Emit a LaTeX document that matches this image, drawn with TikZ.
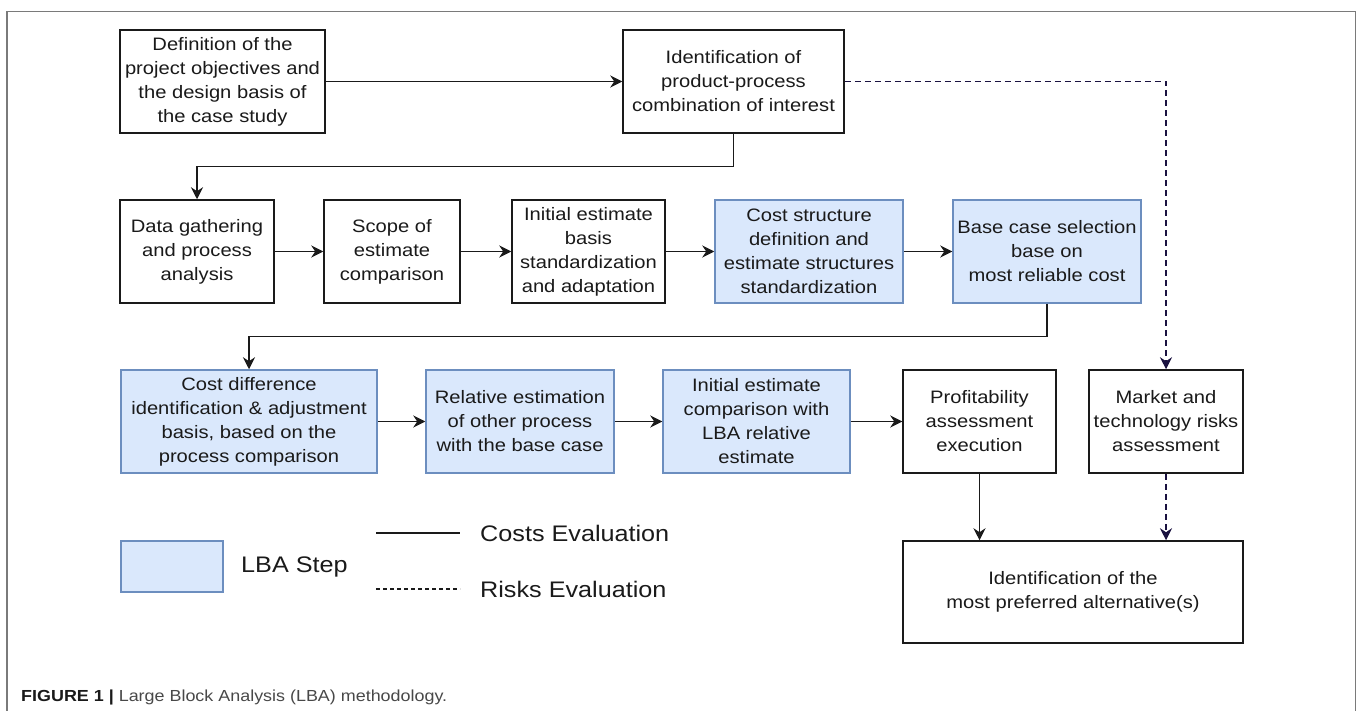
\documentclass[tikz,border=0pt]{standalone}
\usepackage{fontspec}
\setmainfont{Liberation Sans}[FakeStretch=1.12]
\usetikzlibrary{arrows.meta}
\definecolor{ink}{HTML}{1A1A1A}
\definecolor{lbafill}{HTML}{DAE8FC}
\definecolor{lbadraw}{HTML}{6C8EBF}
\definecolor{risk}{HTML}{1A1240}
\definecolor{frame}{HTML}{7A7A7A}
\tikzset{
  box/.style={draw=ink, line width=1.5pt, fill=white, align=center, inner sep=2pt,
    font=\fontsize{18}{24}\selectfont, text=ink, minimum height=103pt},
  lba/.style={box, draw=lbadraw, fill=lbafill},
  arr/.style={draw=ink, line width=1.4pt, -{Stealth[length=12pt,width=12pt,inset=4pt]}},
  riskarr/.style={draw=risk, line width=1.4pt, dash pattern=on 6pt off 4pt,
    -{Stealth[length=12pt,width=12pt,inset=4pt]}},
  legtext/.style={anchor=west, font=\fontsize{22.5}{26}\selectfont, text=ink, inner sep=0pt},
}
\begin{document}
\begin{tikzpicture}[x=1pt,y=-1pt]
\useasboundingbox (0,0) rectangle (1358,711);
\draw[frame, line width=1.6pt] (7,711) -- (7,11.5) -- (1355.5,11.5) -- (1355.5,711);

% row 1
\node[box, minimum width=205pt] (B1) at (222.5,81.5) {Definition of the\\project objectives and\\the design basis of\\the case study};
\node[box, minimum width=221pt] (B2) at (733.5,81.5) {Identification of\\product-process\\combination of interest};

% row 2
\node[box, minimum width=154pt] (B3) at (197,251.5) {Data gathering\\and process\\analysis};
\node[box, minimum width=136pt] (B4) at (392,251.5) {Scope of\\estimate\\comparison};
\node[box, minimum width=153pt] (B5) at (588.5,251.5) {Initial estimate\\basis\\standardization\\and adaptation};
\node[lba, minimum width=188pt] (B6) at (809,251.5) {Cost structure\\definition and\\estimate structures\\standardization};
\node[lba, minimum width=188pt] (B7) at (1047,251.5) {Base case selection\\base on\\most reliable cost};

% row 3
\node[lba, minimum width=256pt] (B8) at (249,421.5) {Cost difference\\identification \& adjustment\\basis, based on the\\process comparison};
\node[lba, minimum width=188pt] (B9) at (520,421.5) {Relative estimation\\of other process\\with the base case};
\node[lba, minimum width=187pt] (B10) at (756.5,421.5) {Initial estimate\\comparison with\\LBA relative\\estimate};
\node[box, minimum width=153pt] (B11) at (979.5,421.5) {Profitability\\assessment\\execution};
\node[box, minimum width=154pt] (B12) at (1166,421.5) {Market and\\technology risks\\assessment};

% final
\node[box, minimum width=340pt, minimum height=102pt] (B13) at (1073,592) {Identification of the\\most preferred alternative(s)};

% connectors
\draw[arr] (B1) -- (B2);
\draw[arr] (B2.south) -- ++(0,33) -| (B3.north);
\draw[arr] (B3) -- (B4);
\draw[arr] (B4) -- (B5);
\draw[arr] (B5) -- (B6);
\draw[arr] (B6) -- (B7);
\draw[arr] (B7.south) -- ++(0,33) -| (B8.north);
\draw[arr] (B8) -- (B9);
\draw[arr] (B9) -- (B10);
\draw[arr] (B10) -- (B11);
\draw[arr] (B11.south) -- (B11.south |- B13.north);
\draw[riskarr] (B2.east) -| (B12.north);
\draw[riskarr] (B12.south) -- (B12.south |- B13.north);

% legend
\node[lba, minimum width=102pt, minimum height=51pt] (L) at (172,566.5) {};
\node[legtext] (Lt) at (241,567) {LBA Step};
\coordinate (c1) at (376,533);
\coordinate (c2) at (460,533);
\coordinate (r1) at (376,589);
\coordinate (r2) at (460,589);
\draw[ink, line width=1.3pt] (c1) -- (c2);
\draw[ink, line width=1.1pt, dash pattern=on 4pt off 3pt] (r1) -- (r2);
\node[legtext] (Ct) at (480,533) {Costs Evaluation};
\node[legtext] (Rt) at (480,589) {Risks Evaluation};

% caption
\node[anchor=west, inner sep=0pt, font=\fontsize{16}{18}\selectfont, text=ink] (cap) at (21,697)
  {\textbf{FIGURE 1 |} \textcolor{ink!80}{Large Block Analysis (LBA) methodology.}};
\end{tikzpicture}
\end{document}
